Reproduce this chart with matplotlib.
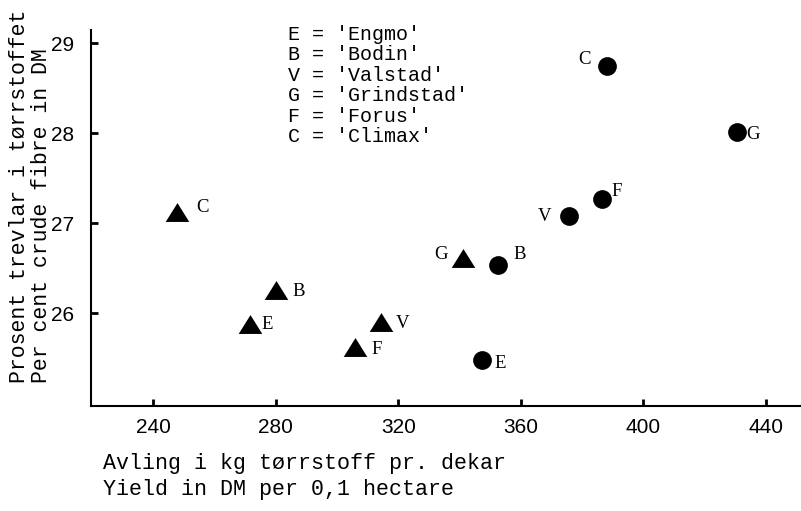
import matplotlib
matplotlib.use('Agg')
import matplotlib.pyplot as plt

# Varieties, same order in both series
varieties = ['E', 'B', 'V', 'G', 'F', 'C']
legend_lines = ["E = 'Engmo'", "B = 'Bodin'", "V = 'Valstad'",
                "G = 'Grindstad'", "F = 'Forus'", "C = 'Climax'"]

# triangles
tri_x = [271.6, 280.1, 314.3, 341.2, 305.9, 247.6]
tri_y = [25.88, 26.26, 25.90, 26.61, 25.63, 27.13]
# circles
circ_x = [347.4, 352.7, 375.7, 430.5, 386.4, 388.0]
circ_y = [25.48, 26.54, 27.08, 28.02, 27.27, 28.75]

x_ticks = [240, 280, 320, 360, 400, 440]
y_ticks = [26, 27, 28, 29]

# label offsets in pixels (dx, dy)
tri_off = [(17, 0), (23, -2), (22, -1), (-22, 4), (22, -3), (26, 4)]
circ_off = [(18, -3), (21, 10), (-24, 0), (16, -3), (15, 7), (-22, 6)]

MONO = 'Liberation Mono'
SERIF = 'Liberation Serif'
TICKF = 'Liberation Sans'

fig = plt.figure(figsize=(8.01, 5.11), dpi=100)
ax = fig.add_axes([90.7 / 801, 1 - 405.7 / 511, (801 - 90.7) / 801, (405.7 - 30) / 511])

# wider-than-tall triangle
tri_marker = [(0, 0.8), (-1, -0.8), (1, -0.8), (0, 0.8)]
ax.plot(tri_x, tri_y, linestyle='none', marker=tri_marker, markersize=17,
        color='black', markeredgewidth=0)
ax.plot(circ_x, circ_y, linestyle='none', marker='o', markersize=13.5,
        color='black', markeredgewidth=0)

for i, v in enumerate(varieties):
    ax.annotate(v, (tri_x[i], tri_y[i]), xytext=tri_off[i], textcoords='offset pixels',
                ha='center', va='center', fontsize=13.5, family=SERIF)
    ax.annotate(v, (circ_x[i], circ_y[i]), xytext=circ_off[i], textcoords='offset pixels',
                ha='center', va='center', fontsize=13.5, family=SERIF)

ax.set_xlim(219.56, 451.5)
ax.set_ylim(24.973, 29.148)
ax.set_xticks(x_ticks)
ax.set_yticks(y_ticks)
ax.set_xticklabels([str(t) for t in x_ticks], family=TICKF, fontsize=15)
ax.set_yticklabels([str(t) for t in y_ticks], family=TICKF, fontsize=15)
ax.tick_params(axis='both', direction='in', length=5, width=2)
ax.tick_params(axis='x', pad=9)
ax.tick_params(axis='y', pad=12)

for s in ['top', 'right']:
    ax.spines[s].set_visible(False)
for s in ['left', 'bottom']:
    ax.spines[s].set_linewidth(1.5)
ax.patch.set_visible(False)

# key of variety letters
for i, line in enumerate(legend_lines):
    fig.text(288 / 801, 1 - (34 + 20.6 * i) / 511, line, family=MONO, fontsize=14.4,
             ha='left', va='center')

# y axis title, two rotated lines
fig.text(20 / 801, 1 - 383 / 511, 'Prosent trevlar i tørrstoffet', rotation=90,
         family=MONO, fontsize=15.5, ha='center', va='bottom')
fig.text(42 / 801, 1 - 383 / 511, 'Per cent crude fibre in DM', rotation=90,
         family=MONO, fontsize=15.5, ha='center', va='bottom')

# x axis title
fig.text(103 / 801, 1 - 463 / 511, 'Avling i kg tørrstoff pr. dekar',
         family=MONO, fontsize=15.6, ha='left', va='center')
fig.text(103 / 801, 1 - 490 / 511, 'Yield in DM per 0,1 hectare',
         family=MONO, fontsize=15.6, ha='left', va='center')

fig.savefig('out.png', dpi=100, facecolor='white')
